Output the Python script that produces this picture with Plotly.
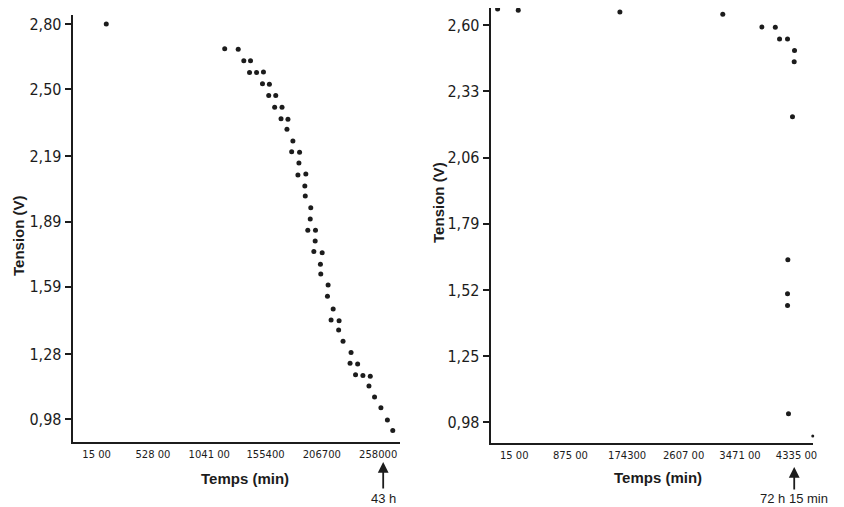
import plotly.graph_objects as go

# ---------------- data: left panel (43 h discharge) ----------------
left_time = [103, 1182, 1305, 1356, 1417, 1408, 1472, 1535, 1526, 1589, 1583, 1647,
             1637, 1704, 1695, 1758, 1749, 1803, 1792, 1864, 1858, 1849, 1921, 1912,
             1916, 1966, 1961, 1939, 2009, 2006, 1994, 2070, 2054, 2057, 2124, 2118,
             2170, 2151, 2224, 2220, 2260, 2333, 2324, 2393, 2374, 2441, 2508, 2496,
             2547, 2605, 2664, 2713]
left_volt = [2.800, 2.686, 2.683, 2.630, 2.630, 2.576, 2.576, 2.579, 2.525, 2.522, 2.470, 2.470,
             2.416, 2.416, 2.363, 2.361, 2.315, 2.261, 2.211, 2.209, 2.160, 2.105, 2.109, 2.054,
             2.008, 1.954, 1.902, 1.850, 1.850, 1.801, 1.752, 1.747, 1.694, 1.649, 1.598, 1.546,
             1.488, 1.437, 1.434, 1.391, 1.339, 1.287, 1.238, 1.235, 1.185, 1.181, 1.178, 1.133,
             1.083, 1.033, 0.977, 0.928]
left_xticks = [15, 528, 1041, 1554, 2067, 2580]
left_xtext = ["15 00", "528 00", "1041 00", "155400", "206700", "258000"]
left_yticks = [2.80, 2.50, 2.19, 1.89, 1.59, 1.28, 0.98]
left_ytext = ["2,80", "2,50", "2,19", "1,89", "1,59", "1,28", "0,98"]

# ---------------- data: right panel (72 h 15 min discharge) ----------------
right_time = [-240, 76, 1632, 3207, 3806, 4011, 4076, 4198, 4305, 4300, 4274,
              4203, 4198, 4198, 4213]
right_volt = [2.666, 2.661, 2.654, 2.645, 2.593, 2.592, 2.544, 2.544, 2.497, 2.451, 2.227,
              1.643, 1.505, 1.457, 1.015]
right_last_time = [4584]
right_last_volt = [0.925]
right_xticks = [15, 875, 1743, 2607, 3471, 4335]
right_xtext = ["15 00", "875 00", "174300", "2607 00", "3471 00", "4335 00"]
right_yticks = [2.60, 2.33, 2.06, 1.79, 1.52, 1.25, 0.98]
right_ytext = ["2,60", "2,33", "2,06", "1,79", "1,52", "1,25", "0,98"]

# page body has an 8 px margin: figure occupies (8,8)-(844,507) of the window
OFF = 8
W, H = 844 - OFF, 507 - OFF
INK = "#1c1c1c"
NARROW = "Liberation Sans Narrow, Arial Narrow, DejaVu Sans Condensed, sans-serif"

def px(x):
    return (x - OFF) / W

def py(y):
    return 1 - (y - OFF) / H

fig = go.Figure()
fig.add_trace(go.Scatter(x=left_time, y=left_volt, mode="markers",
                         marker=dict(size=5, color=INK, opacity=1), cliponaxis=False,
                         xaxis="x", yaxis="y", showlegend=False))
fig.add_trace(go.Scatter(x=right_time, y=right_volt, mode="markers",
                         marker=dict(size=5, color=INK, opacity=1), cliponaxis=False,
                         xaxis="x2", yaxis="y2", showlegend=False))
fig.add_trace(go.Scatter(x=right_last_time, y=right_last_volt, mode="markers",
                         marker=dict(size=3, color=INK, opacity=1), cliponaxis=False,
                         xaxis="x2", yaxis="y2", showlegend=False))

xcommon = dict(showgrid=False, zeroline=False, showline=True, linecolor=INK, linewidth=2,
               ticks="", tickfont=dict(family="DejaVu Sans", size=10, color=INK),
               ticklabelstandoff=2, tickmode="array")
ycommon = dict(showgrid=False, zeroline=False, showline=True, linecolor=INK, linewidth=2,
               ticks="outside", ticklen=6, tickwidth=1.5, tickcolor=INK,
               tickfont=dict(family=NARROW, size=16, color=INK), tickmode="array")

fig.update_layout(
    width=W, height=H,
    margin=dict(l=0, r=0, t=0, b=0),
    paper_bgcolor="white", plot_bgcolor="white",
    xaxis=dict(domain=[px(73), px(402)], range=[-203, 2780], anchor="y",
               tickvals=left_xticks, ticktext=left_xtext, **xcommon),
    yaxis=dict(domain=[py(442.3), py(15)], range=[0.874, 2.841], anchor="x",
               tickvals=left_yticks, ticktext=left_ytext, **ycommon),
    xaxis2=dict(domain=[px(493), px(817)], range=[-346, 4590], anchor="y2",
                tickvals=right_xticks, ticktext=right_xtext, **xcommon),
    yaxis2=dict(domain=[py(443.3), 1.0], range=[0.895, 2.670], anchor="x2",
                tickvals=right_yticks, ticktext=right_ytext, **ycommon),
)

title_font = dict(family="Liberation Sans, Arial, sans-serif", size=15, color=INK)
ann = []
ann.append(dict(x=px(246), y=py(478), xref="paper", yref="paper", text="<b>Temps (min)</b>",
                showarrow=False, font=title_font, xanchor="center", yanchor="middle"))
ann.append(dict(x=px(661), y=py(477), xref="paper", yref="paper", text="<b>Temps (min)</b>",
                showarrow=False, font=title_font, xanchor="center", yanchor="middle"))
ann.append(dict(x=px(18), y=py(235), xref="paper", yref="paper", text="<b>Tension (V)</b>",
                showarrow=False, font=title_font, textangle=-90, xanchor="center", yanchor="middle"))
ann.append(dict(x=px(441), y=py(202), xref="paper", yref="paper", text="<b>Tension (V)</b>",
                showarrow=False, font=title_font, textangle=-90, xanchor="center", yanchor="middle"))
# arrows
ann.append(dict(x=px(385), y=py(462), xref="paper", yref="paper", text="", showarrow=True,
                ax=0, ay=28, arrowhead=2, arrowsize=1.2, arrowwidth=1.8, arrowcolor=INK))
ann.append(dict(x=px(798), y=py(467), xref="paper", yref="paper", text="", showarrow=True,
                ax=0, ay=24, arrowhead=2, arrowsize=1.2, arrowwidth=1.8, arrowcolor=INK))
note_font = dict(family="Liberation Sans, Arial, sans-serif", size=13, color=INK)
ann.append(dict(x=px(385), y=py(498), xref="paper", yref="paper", text="43 h",
                showarrow=False, font=note_font, xanchor="center", yanchor="middle"))
ann.append(dict(x=px(798), y=py(498), xref="paper", yref="paper", text="72 h 15 min",
                showarrow=False, font=note_font, xanchor="center", yanchor="middle"))
fig.update_layout(annotations=ann)

fig.write_html("out.html")
